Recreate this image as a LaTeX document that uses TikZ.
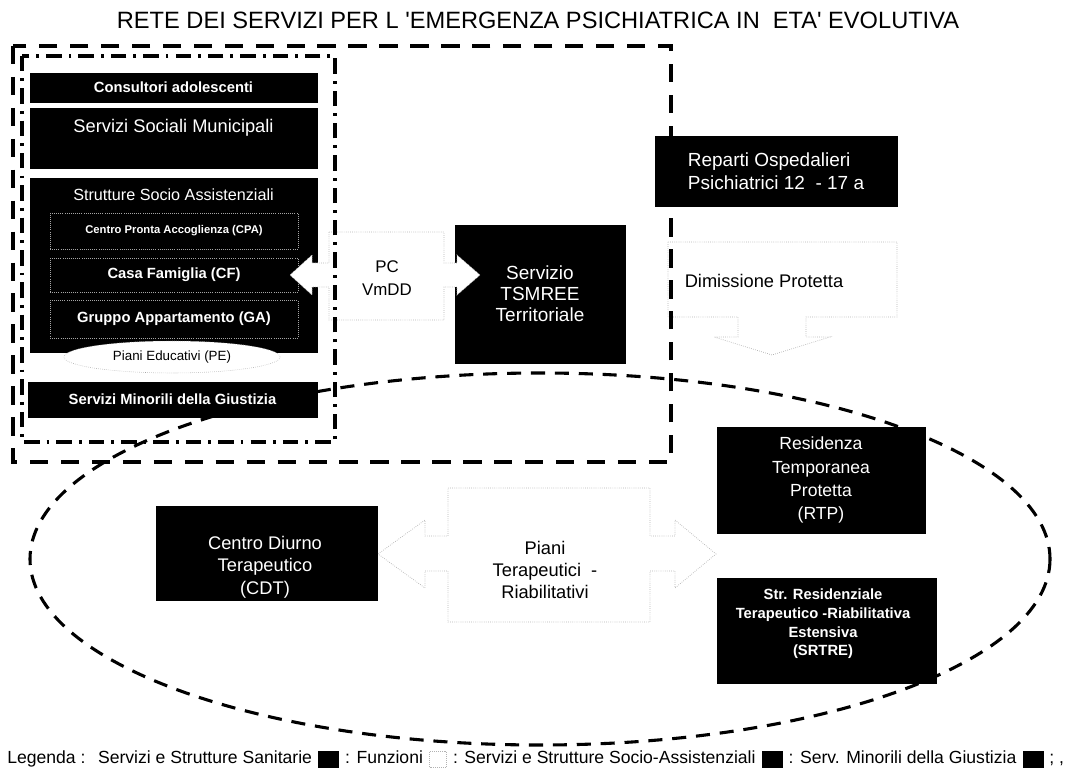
\documentclass[tikz,border=0pt]{standalone}
\usepackage{fontspec}
\setmainfont{Liberation Sans}
\usetikzlibrary{calc,positioning,shapes.geometric}
\tikzset{>=latex}
\tikzstyle{blk} = [fill=black, draw=black, inner sep=0pt, text=white, align=center]
\tikzstyle{sub} = [fill=black, draw=gray!70, densely dotted, line width=0.5pt, inner sep=0pt, text=white]
\tikzstyle{callout} = [fill=white, draw=gray!60, densely dotted, line width=0.5pt]
\tikzstyle{frame} = [line width=2.8pt, dash pattern=on 13pt off 9pt]
\tikzstyle{innerframe} = [line width=2.2pt, dash pattern=on 11pt off 5pt on 2pt off 5pt]
\tikzstyle{rete} = [line width=2.2pt, dash pattern=on 10pt off 7pt]
\tikzstyle{leg} = [inner sep=0pt, text height=9pt, text depth=2.5pt, font=\fontsize{12.5}{13}\selectfont]
\tikzstyle{legsq} = [fill=black, draw=black, inner sep=0pt, minimum width=20*\pxu, minimum height=16*\pxu]

\def\pxu{0.025cm}   % one pixel of the original sheet
\def\apo{\textquotesingle}
\def\lgap{6*\pxu}   % gap between legend items

\begin{document}
\begin{tikzpicture}[x=0.025cm, y=-0.025cm]
    \useasboundingbox (0,0) rectangle (1084,773);

    % Title
    \node[font=\fontsize{16.8}{17}\selectfont] (title) at (538,20)
        {RETE DEI SERVIZI PER L \apo EMERGENZA PSICHIATRICA IN \ ETA\apo\ EVOLUTIVA};

    % the network ellipse (behind everything)
    \draw[rete] (540,559) ellipse [x radius=510, y radius=186];

    % left column: social services
    \node[blk, minimum width=287*\pxu, minimum height=29*\pxu, font=\bfseries\fontsize{10.5}{12}\selectfont] (cons) at (173.5,87.5) {Consultori adolescenti};
    \node[blk, minimum width=287*\pxu, minimum height=60*\pxu] (ssm) at (173.5,138) {};
    \node[text=white, font=\fontsize{13}{15}\selectfont] (ssmlbl) at (173.5,128) {Servizi Sociali Municipali};
    \node[blk, minimum width=287*\pxu, minimum height=174*\pxu] (ssa) at (173.5,265) {};
    \node[text=white, font=\fontsize{11.5}{13}\selectfont] (ssalbl) at (173.5,195) {Strutture Socio Assistenziali};
    \node[sub, minimum width=248*\pxu, minimum height=36*\pxu, font=\bfseries\fontsize{8}{10}\selectfont] (cpa) at (174,231) {Centro Pronta Accoglienza (CPA)};
    \node[sub, minimum width=248*\pxu, minimum height=34*\pxu, font=\bfseries\fontsize{10.5}{12}\selectfont] (cf) at (174,275) {Casa Famiglia (CF)};
    \node[sub, minimum width=248*\pxu, minimum height=38*\pxu, font=\bfseries\fontsize{10.5}{12}\selectfont] (ga) at (174,319) {Gruppo Appartamento (GA)};
    \node[ellipse, draw=gray!70, densely dotted, fill=white, inner sep=0pt, minimum width=216*\pxu, minimum height=32*\pxu, font=\fontsize{9.5}{11}\selectfont] (pe) at (172,357) {Piani Educativi (PE)};
    \node[blk, minimum width=289*\pxu, minimum height=35*\pxu, font=\bfseries\fontsize{10.5}{12}\selectfont] (smg) at (172.5,399.5) {Servizi Minorili della Giustizia};

    % health services
    \node[blk, minimum width=170*\pxu, minimum height=138*\pxu, font=\fontsize{13.5}{15}\selectfont] (tsm) at (540,294) {Servizio\\TSMREE\\Territoriale};
    \node[blk, minimum width=208*\pxu, minimum height=106*\pxu, font=\fontsize{12.5}{16.4}\selectfont] (rtp) at (821,480) {Residenza\\Temporanea\\Protetta\\(RTP)};
    \node[blk, minimum width=219*\pxu, minimum height=105*\pxu] (srt) at (826.5,630.5) {};
    \node[text=white, align=center, font=\bfseries\fontsize{10.5}{13.2}\selectfont] (srtlbl) at (823,624) {Str. Residenziale\\Terapeutico -Riabilitativa\\Estensiva\\(SRTRE)};
    \node[blk, minimum width=221*\pxu, minimum height=94*\pxu] (cdt) at (266.5,553) {};
    \node[text=white, align=center, font=\fontsize{13}{16}\selectfont] (cdtlbl) at (265,567) {Centro Diurno\\Terapeutico\\(CDT)};

    % functions: arrow callouts
    \draw[callout] (329,232) -- (444,232) -- (444,263) -- (457,263) -- (457,255) -- (480,275)
        -- (457,295) -- (457,287) -- (444,287) -- (444,320) -- (329,320) -- (329,287)
        -- (312,287) -- (312,295) -- (290,275) -- (312,255) -- (312,263) -- (329,263) -- cycle;
    \node[align=center, font=\fontsize{12}{16}\selectfont] (pc) at (387,278) {PC\\VmDD};

    \draw[callout] (668,242) -- (897,242) -- (897,317) -- (806,317) -- (806,337) -- (830,337)
        -- (772,355) -- (714,337) -- (738,337) -- (738,317) -- (668,317) -- cycle;
    \node[font=\fontsize{13}{15}\selectfont] (dim) at (764,281) {Dimissione Protetta};

    \draw[callout] (448,488) -- (650,488) -- (650,536) -- (675,536) -- (675,520) -- (716,554)
        -- (675,588) -- (675,571) -- (650,571) -- (650,622) -- (448,622) -- (448,571)
        -- (425,571) -- (425,588) -- (378,554) -- (425,520) -- (425,536) -- (448,536) -- cycle;
    \node[align=center, font=\fontsize{13}{15.6}\selectfont] (piani) at (545,570) {Piani\\Terapeutici \ -\\Riabilitativi};

    % frames
    \draw[frame] (13,46) rectangle (671,462);
    \draw[innerframe] (22,56) rectangle (335,442);

    % hospital wards sit on top of the frame
    \node[blk, align=left, minimum width=242*\pxu, minimum height=70*\pxu, font=\fontsize{13.5}{16.5}\selectfont] (rep) at (776,171) {Reparti Ospedalieri\\Psichiatrici 12 \ - 17 a};

    % legend
    \node[leg, anchor=west] (leg0) at (7,759) {Legenda :};
    \node[leg, right=12*\pxu of leg0] (leg1) {Servizi e Strutture Sanitarie};
    \node[legsq, right=\lgap of leg1] (sq1) {};
    \node[leg, right=\lgap of sq1] (leg2) {: Funzioni};
    \node[legsq, minimum width=17*\pxu, fill=white, draw=gray!60, densely dotted, right=\lgap of leg2] (sq2) {};
    \node[leg, right=\lgap of sq2] (leg3) {: Servizi e Strutture Socio-Assistenziali};
    \node[legsq, right=\lgap of leg3] (sq3) {};
    \node[leg, right=\lgap of sq3] (leg4) {: Serv. Minorili della Giustizia};
    \node[legsq, right=\lgap of leg4] (sq4) {};
    \node[leg, right=\lgap of sq4] (leg5) {; ,};
\end{tikzpicture}
\end{document}
